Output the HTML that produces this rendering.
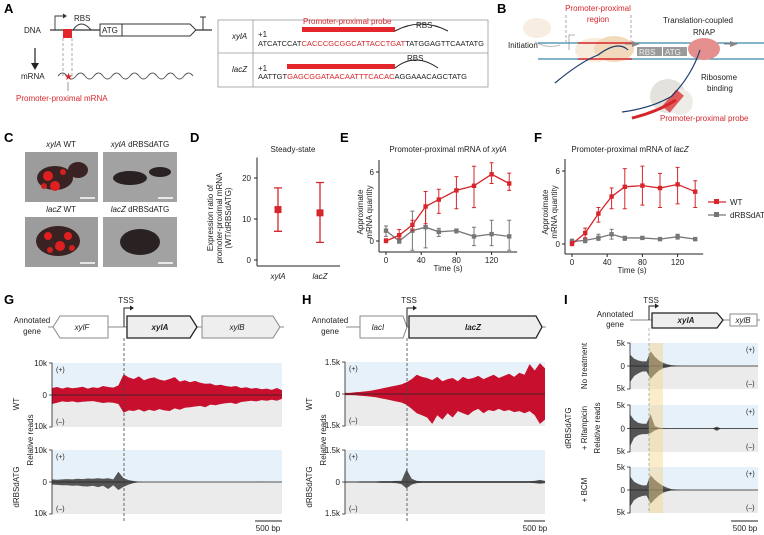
<!DOCTYPE html>
<html><head><meta charset="utf-8"><style>
html,body{margin:0;padding:0;background:#fff;}
svg{display:block;font-family:"Liberation Sans",Arial,sans-serif;}
.pl{font-weight:bold;font-size:13px;}
.t{font-size:8px;fill:#222;}
.s{font-size:7px;fill:#222;}
.r{fill:#d7262b;}
</style></head><body>
<svg id="fig" width="764" height="535" viewBox="0 0 764 535">
<!-- Panel A -->
<g>
<text class="pl" x="4" y="13">A</text>
<text class="t" x="24" y="33">DNA</text>
<line x1="50" y1="30" x2="212" y2="30" stroke="#333" stroke-width="1.2"/>
<path d="M55 30 V16 H63" fill="none" stroke="#333" stroke-width="0.9"/><path d="M63 13.5 L67 16 L63 18.5Z" fill="#333"/>
<path d="M73 30 Q81 18 91 30" fill="none" stroke="#333"/>
<text class="t" x="74" y="21">RBS</text>
<rect x="100" y="24" width="22" height="12" fill="#fff" stroke="#333"/><text class="t" x="102" y="33">ATG</text>
<path d="M122 24 H190 L196 30 L190 36 H122Z" fill="#fff" stroke="#333"/>
<line x1="203" y1="17" x2="203" y2="30" stroke="#333"/><line x1="200" y1="17" x2="206" y2="17" stroke="#333"/>
<rect x="63" y="29" width="9" height="9" fill="#e3262b"/>
<line x1="63" y1="38" x2="63" y2="76" stroke="#aaa" stroke-dasharray="3,2"/><line x1="72" y1="38" x2="72" y2="76" stroke="#aaa" stroke-dasharray="3,2"/>
<line x1="35" y1="48" x2="35" y2="64" stroke="#222" stroke-width="1.2"/><path d="M31 63 L35 70 L39 63Z" fill="#222"/>
<text class="t" x="21" y="79">mRNA</text>
<path d="M58 76 q4.5-6 9 0 t9 0 t9 0 t9 0 t9 0 t9 0 t9 0 t9 0 t9 0 t9 0 t9 0 t9 0 t9 0 t9 0 t9 0" fill="none" stroke="#555" stroke-width="0.9"/>
<text x="64" y="80" font-size="10" class="r">★</text>
<line x1="68" y1="82" x2="68" y2="91" stroke="#999"/>
<text x="16" y="101" font-size="8" class="r">Promoter-proximal mRNA</text>
<!-- table -->
<rect x="218" y="20" width="270" height="67" fill="#fff" stroke="#999" stroke-width="0.8"/>
<line x1="253" y1="20" x2="253" y2="87" stroke="#999" stroke-width="0.8"/><line x1="218" y1="53" x2="488" y2="53" stroke="#999" stroke-width="0.8"/>
<text class="t" x="232" y="39" font-style="italic">xylA</text>
<text class="t" x="258" y="37">+1</text>
<text class="s" x="258" y="46" textLength="226" lengthAdjust="spacingAndGlyphs">ATCATCCAT<tspan class="r">CACCCGCGGCATTACCTGAT</tspan>TATGGAGTTCAATATG</text>
<rect x="302" y="27" width="93" height="5" fill="#e3262b"/>
<text x="303" y="24" font-size="8" class="r">Promoter-proximal probe</text>
<path d="M395 31 Q421 17 448 31" fill="none" stroke="#222"/><text class="t" x="416" y="28">RBS</text>
<text class="t" x="232" y="72" font-style="italic">lacZ</text>
<text class="t" x="258" y="71">+1</text>
<text class="s" x="258" y="79" textLength="209" lengthAdjust="spacingAndGlyphs">AATTGT<tspan class="r">GAGCGGATAACAATTTCACAC</tspan>AGGAAACAGCTATG</text>
<rect x="287" y="64" width="108" height="5" fill="#e3262b"/>
<path d="M395 68 Q415 52 438 68" fill="none" stroke="#222"/><text class="t" x="407" y="61">RBS</text>
</g>
<!-- Panel B -->
<g>
<text class="pl" x="497" y="13">B</text>
<text x="598" y="11" font-size="8" class="r" text-anchor="middle">Promoter-proximal</text>
<text x="598" y="22" font-size="8" class="r" text-anchor="middle">region</text>
<line x1="566" y1="15" x2="566" y2="42" stroke="#aaa" stroke-dasharray="3,2"/><line x1="631" y1="15" x2="631" y2="42" stroke="#aaa" stroke-dasharray="3,2"/>
<ellipse cx="537" cy="28" rx="14" ry="10" fill="#f7ede1"/>
<text class="t" x="508" y="48">Initiation</text>
<path d="M535 42 Q548 49 560 45" fill="none" stroke="#bbb"/>
<path d="M569 50 V35 H575" fill="none" stroke="#999" stroke-width="0.8"/>
<line x1="538" y1="43" x2="764" y2="43" stroke="#3a86a8" stroke-width="1.2"/>
<line x1="538" y1="59" x2="764" y2="59" stroke="#3a86a8" stroke-width="1.2"/>
<ellipse cx="595" cy="50" rx="20" ry="12" fill="#f6e6d2" opacity="0.8"/>
<ellipse cx="614" cy="49" rx="20" ry="13" fill="#f3d9bb"/>
<line x1="578" y1="43" x2="632" y2="43" stroke="#d7262b" stroke-width="1.5"/><line x1="578" y1="59" x2="632" y2="59" stroke="#d7262b" stroke-width="1.5"/>
<path d="M555 83 Q580 62 598 55 Q618 40 628 50" fill="none" stroke="#1b3a6b" stroke-width="1.2"/>
<rect x="637" y="47" width="25" height="9" fill="#9a9a9a"/><text x="639" y="55" font-size="8" fill="#eee">RBS</text>
<rect x="663" y="47" width="24" height="9" fill="#9a9a9a"/><text x="665" y="55" font-size="8" fill="#eee">ATG</text>
<path d="M632 41 L640 44 L632 47Z" fill="#888"/><line x1="625" y1="44" x2="634" y2="44" stroke="#888"/>
<ellipse cx="704" cy="49" rx="16" ry="11" fill="#e58e8e"/>
<path d="M730 41 L738 44 L730 47Z" fill="#888"/><line x1="724" y1="44" x2="732" y2="44" stroke="#888"/>
<text class="t" x="663" y="23">Translation-coupled</text><text class="t" x="693" y="35">RNAP</text>
<ellipse cx="668" cy="96" rx="18" ry="17" fill="#e4e2dc"/>
<ellipse cx="680" cy="102" rx="13" ry="13" fill="#eeece7"/>
<rect x="668" y="90" width="10" height="22" fill="#e05a5a" transform="rotate(40 673 101)"/>
<path d="M622 112 Q652 108 672 96 Q692 75 700 50" fill="none" stroke="#1b3a6b" stroke-width="1.2"/>
<path d="M632 118 Q657 112 676 100" fill="none" stroke="#d7262b" stroke-width="3"/>
<text class="t" x="701" y="80">Ribosome</text><text class="t" x="707" y="91">binding</text>
<text x="660" y="121" font-size="8" class="r">Promoter-proximal probe</text>
</g>
<!-- Panel C -->
<g>
<text class="pl" x="4" y="142">C</text>
<text class="t" x="61" y="147" text-anchor="middle"><tspan font-style="italic">xylA</tspan> WT</text>
<text class="t" x="140" y="147" text-anchor="middle"><tspan font-style="italic">xylA</tspan> dRBSdATG</text>
<text class="t" x="61" y="212" text-anchor="middle"><tspan font-style="italic">lacZ</tspan> WT</text>
<text class="t" x="140" y="212" text-anchor="middle"><tspan font-style="italic">lacZ</tspan> dRBSdATG</text>
<rect x="25" y="152" width="73" height="50" fill="#9c9c9c"/>
<ellipse cx="55" cy="178" rx="18" ry="12" fill="#3a2222"/><ellipse cx="78" cy="170" rx="10" ry="8" fill="#3a2222"/>
<circle cx="48" cy="176" r="5" fill="#e02020"/><circle cx="55" cy="186" r="5" fill="#e02020"/><circle cx="63" cy="172" r="3" fill="#d02020"/><circle cx="44" cy="186" r="3" fill="#d02020"/>
<rect x="103" y="152" width="74" height="50" fill="#a2a2a2"/>
<ellipse cx="130" cy="178" rx="17" ry="7" fill="#2a2222"/><ellipse cx="160" cy="172" rx="11" ry="5" fill="#2a2222"/>
<rect x="25" y="217" width="73" height="50" fill="#9c9c9c"/>
<ellipse cx="58" cy="241" rx="22" ry="15" fill="#3a2222"/>
<circle cx="48" cy="236" r="4" fill="#e02020"/><circle cx="60" cy="246" r="5" fill="#e02020"/><circle cx="68" cy="236" r="4" fill="#e02020"/><circle cx="50" cy="250" r="3" fill="#d02020"/><circle cx="72" cy="248" r="3" fill="#d02020"/>
<rect x="103" y="217" width="74" height="50" fill="#a2a2a2"/>
<ellipse cx="140" cy="242" rx="20" ry="13" fill="#2a2222"/>
<g stroke="#fff" stroke-width="1.5"><line x1="80" y1="198" x2="95" y2="198"/><line x1="158" y1="198" x2="173" y2="198"/><line x1="80" y1="263" x2="95" y2="263"/><line x1="158" y1="263" x2="173" y2="263"/></g>
</g>
<!-- Panel D/E/F text -->
<text class="pl" x="190" y="142">D</text>
<text class="t" x="293" y="152" text-anchor="middle">Steady-state</text>
<text class="t" text-anchor="middle" transform="translate(213,218) rotate(-90)"><tspan x="0" y="0">Expression ratio of</tspan><tspan x="0" y="9">promoter-proximal mRNA</tspan><tspan x="0" y="18">(WT/dRBSdATG)</tspan></text>
<text class="pl" x="340" y="142">E</text>
<text class="t" x="448" y="152" text-anchor="middle">Promoter-proximal mRNA of <tspan font-style="italic">xylA</tspan></text>
<text class="t" text-anchor="middle" transform="translate(363,212) rotate(-90)"><tspan x="0" y="0">Approximate</tspan><tspan x="0" y="9">mRNA quantity</tspan></text>
<text class="t" x="448" y="271" text-anchor="middle">Time (s)</text>
<text class="pl" x="534" y="142">F</text>
<text class="t" x="630" y="152" text-anchor="middle">Promoter-proximal mRNA of <tspan font-style="italic">lacZ</tspan></text>
<text class="t" text-anchor="middle" transform="translate(548,212) rotate(-90)"><tspan x="0" y="0">Approximate</tspan><tspan x="0" y="9">mRNA quantity</tspan></text>
<text class="t" x="632" y="273" text-anchor="middle">Time (s)</text>
<g>
<line x1="708" y1="202" x2="726" y2="202" stroke="#d7262b" stroke-width="1.2"/><rect x="714" y="199" width="5" height="5" fill="#d7262b"/><text class="t" x="730" y="205">WT</text>
<line x1="708" y1="215" x2="726" y2="215" stroke="#777" stroke-width="1.2"/><rect x="714" y="212" width="5" height="5" fill="#777"/><text class="t" x="730" y="218">dRBSdATG</text>
</g>
<g id="charts"></g>
<!-- Panel G/H/I static -->
<text class="pl" x="4" y="304">G</text>
<text class="pl" x="302" y="304">H</text>
<text class="pl" x="564" y="304">I</text>
<g>
<text class="t" x="32" y="323" text-anchor="middle">Annotated</text><text class="t" x="32" y="334" text-anchor="middle">gene</text>
<line x1="48" y1="327" x2="284" y2="327" stroke="#888"/>
<path d="M60 316 H108 V338 H60 L53 327Z" fill="#fff" stroke="#888"/><text class="t" x="82" y="330" font-style="italic" text-anchor="middle">xylF</text>
<path d="M127 316 H190 L197 327 L190 338 H127Z" fill="#eee" stroke="#222" stroke-width="1.3"/><text class="t" x="160" y="330" font-style="italic" font-weight="bold" text-anchor="middle">xylA</text>
<path d="M202 316 H273 L280 327 L273 338 H202Z" fill="#eee" stroke="#888"/><text class="t" x="237" y="330" font-style="italic" text-anchor="middle">xylB</text>
<path d="M124 327 V308 H130" fill="none" stroke="#222"/><path d="M130 305.5 L134 308 L130 310.5Z" fill="#222"/>
<text class="t" x="126" y="303" text-anchor="middle">TSS</text>
</g>
<g>
<text class="t" x="330" y="323" text-anchor="middle">Annotated</text><text class="t" x="330" y="334" text-anchor="middle">gene</text>
<line x1="346" y1="327" x2="546" y2="327" stroke="#888"/>
<path d="M360 316 H403 L407 327 L403 338 H360Z" fill="#fff" stroke="#888"/><text class="t" x="378" y="330" font-style="italic" text-anchor="middle">lacI</text>
<path d="M409 316 H536 L542 327 L536 338 H409Z" fill="#eee" stroke="#222" stroke-width="1.3"/><text class="t" x="473" y="330" font-style="italic" font-weight="bold" text-anchor="middle">lacZ</text>
<path d="M407 327 V308 H413" fill="none" stroke="#222"/><path d="M413 305.5 L417 308 L413 310.5Z" fill="#222"/>
<text class="t" x="409" y="303" text-anchor="middle">TSS</text>
</g>
<g>
<text class="t" x="615" y="317" text-anchor="middle">Annotated</text><text class="t" x="615" y="327" text-anchor="middle">gene</text>
<line x1="630" y1="320" x2="760" y2="320" stroke="#888"/>
<path d="M652 313 H717 L723 320 L717 328 H652Z" fill="#eee" stroke="#222" stroke-width="1.3"/><text class="t" x="686" y="323" font-style="italic" font-weight="bold" text-anchor="middle">xylA</text>
<rect x="730" y="314" width="27" height="12" fill="#fff" stroke="#888"/><text class="t" x="743" y="323" font-style="italic" text-anchor="middle">xylB</text>
<path d="M649 320 V306 H655" fill="none" stroke="#222"/><path d="M655 303.5 L659 306 L655 308.5Z" fill="#222"/>
<text class="t" x="651" y="303" text-anchor="middle">TSS</text>
</g>
<text class="t" transform="translate(19,404) rotate(-90)" text-anchor="middle">WT</text>
<text class="t" transform="translate(19,487) rotate(-90)" text-anchor="middle">dRBSdATG</text>
<text class="t" transform="translate(33,440) rotate(-90)" text-anchor="middle" fill="#fff" stroke="#fff" stroke-width="4">Relative reads</text>
<text class="t" transform="translate(33,440) rotate(-90)" text-anchor="middle">Relative reads</text>
<text class="t" transform="translate(312,404) rotate(-90)" text-anchor="middle">WT</text>
<text class="t" transform="translate(312,487) rotate(-90)" text-anchor="middle">dRBSdATG</text>
<text class="t" transform="translate(326,440) rotate(-90)" text-anchor="middle">Relative reads</text>
<text class="t" transform="translate(571,428) rotate(-90)" text-anchor="middle">dRBSdATG</text>
<text class="t" transform="translate(587,366) rotate(-90)" text-anchor="middle">No treatment</text>
<text class="t" transform="translate(587,428) rotate(-90)" text-anchor="middle">+ Rifampicin</text>
<text class="t" transform="translate(587,490) rotate(-90)" text-anchor="middle">+ BCM</text>
<text class="t" transform="translate(600,428) rotate(-90)" text-anchor="middle">Relative reads</text>
<g>
<line x1="255" y1="521" x2="282" y2="521" stroke="#222"/><text class="t" x="268" y="531" text-anchor="middle">500 bp</text>
<line x1="524" y1="521" x2="545" y2="521" stroke="#222"/><text class="t" x="535" y="531" text-anchor="middle">500 bp</text>
<line x1="731" y1="521" x2="758" y2="521" stroke="#222"/><text class="t" x="745" y="531" text-anchor="middle">500 bp</text>
</g>
<g id="tracks"></g>
</svg>
<script>
// ===== D data =====
const dCats=["xylA","lacZ"];
const dMean=[12.3,11.5];
const dLo=[7.0,4.3];
const dHi=[17.6,18.9];
const dTicks=[0,10,20];
// ===== E data =====
const eTimes=[0,15,30,45,60,80,100,120,140];
const eWT=[0,0.5,1.4,3.0,3.6,4.4,4.8,5.8,5.0];
const eWTlo=[0,0.2,0.9,1.5,2.4,2.8,2.9,5.0,4.4];
const eWThi=[0.2,1.0,1.8,4.3,4.5,5.6,6.5,6.8,5.9];
const eKO=[0.9,0.0,0.9,1.2,0.8,0.9,0.4,0.6,0.4];
const eKOlo=[0.4,-0.2,-0.8,-0.6,0.4,0.7,-0.4,-0.4,-0.8];
const eKOhi=[1.3,0.2,2.6,3.0,1.1,1.0,1.2,1.8,1.8];
// ===== F data =====
const fTimes=[0,15,30,45,60,80,100,120,140];
const fWT=[0,0.9,2.5,3.9,4.7,4.8,4.6,4.9,4.3];
const fWTlo=[0,0.5,1.8,2.9,2.9,3.2,3.0,3.3,3.0];
const fWThi=[0.2,1.3,3.0,4.6,6.2,6.4,5.8,6.3,5.2];
const fKO=[0.2,0.3,0.5,0.8,0.5,0.5,0.4,0.6,0.4];
const fKOlo=[0,0.1,0.3,0.4,0.3,0.4,0.3,0.4,0.3];
const fKOhi=[0.4,0.5,0.8,1.2,0.6,0.6,0.5,0.8,0.5];
const timeTicks=[0,40,80,120];
const qTicks=[0,6];
// ===== coverage tracks (relative reads, k) =====
const gWTpos=[2.2,2.5,2.0,2.4,2.1,2.3,2.6,2.0,2.4,2.2,2.8,2.5,2.3,3.0,6.5,5.5,5.0,5.8,4.6,5.2,5.5,4.8,4.5,5.0,5.6,4.2,4.6,4.0,4.4,3.8,3.5,3.6,3.0,3.2,2.8,2.6,2.8,2.2,2.4,2.0,2.2,1.8,2.0,1.6,2.2,1.5];
const gWTneg=[2.8,2.4,2.0,2.2,2.0,2.3,2.1,2.0,1.9,2.2,2.5,2.3,2.4,2.8,5.5,4.8,5.0,4.5,5.2,4.6,5.0,4.4,4.8,5.0,4.2,4.6,4.0,3.8,3.6,3.4,3.8,3.0,3.2,2.8,2.6,2.4,2.8,2.2,2.0,1.8,2.0,1.6,1.8,1.5,1.8,1.2];
const gKOpos=[0.8,0.7,0.8,0.9,0.8,1.0,0.9,1.1,1.0,1.2,1.0,1.2,0.8,3.2,1.2,0.6,0.3,0.1,0,0,0,0,0,0,0,0,0,0,0,0,0,0,0,0,0,0,0,0,0,0,0,0.1,0,0,0,0];
const gKOneg=[0.8,0.9,1.0,1.0,1.2,1.1,1.3,1.4,1.2,1.6,1.2,2.2,1.0,2.5,1.5,0.8,0.3,0.1,0,0,0,0,0,0,0,0,0,0,0,0,0,0,0,0,0,0,0,0,0,0,0,0,0,0,0,0];
const hWTpos=[0.05,0.05,0.08,0.1,0.12,0.15,0.2,0.25,0.3,0.35,0.4,0.45,0.55,0.7,0.9,0.8,0.75,0.65,0.8,0.6,0.7,0.75,0.6,0.8,0.7,0.75,0.85,0.7,0.8,0.9,0.75,0.85,0.95,0.8,1.0,0.9,1.4,1.1,1.45,1.2];
const hWTneg=[0.05,0.05,0.06,0.08,0.1,0.12,0.15,0.2,0.25,0.3,0.35,0.4,0.5,0.7,0.9,1.0,1.1,1.4,1.0,1.2,0.9,1.1,0.8,0.9,1.0,0.8,0.7,0.9,0.75,0.8,0.7,0.8,0.75,0.85,0.8,0.9,0.8,1.0,1.4,1.2];
const hKOpos=[0.02,0.02,0.02,0.03,0.03,0.03,0.03,0.04,0.04,0.04,0.05,0.05,0.6,0.15,0.05,0.04,0.04,0.04,0.04,0.04,0.04,0.04,0.04,0.04,0.04,0.04,0.04,0.04,0.04,0.04,0.04,0.04,0.04,0.04,0.04,0.04,0.04,0.05,0.1,0.05];
const hKOneg=[0.02,0.02,0.02,0.03,0.03,0.03,0.03,0.04,0.04,0.04,0.05,0.1,0.3,0.12,0.05,0.04,0.04,0.04,0.04,0.04,0.04,0.04,0.04,0.04,0.04,0.04,0.04,0.04,0.04,0.04,0.04,0.04,0.04,0.04,0.04,0.04,0.04,0.05,0.08,0.05];
const iNTpos=[2.5,1.6,1.2,1.0,1.0,3.2,2.0,1.2,0.7,0.4,0.2,0.1,0.05,0,0,0,0,0,0,0,0,0,0,0,0,0,0,0,0,0,0,0];
const iNTneg=[3.5,2.2,1.6,1.2,1.2,2.8,1.8,1.0,0.5,0.3,0.1,0.05,0,0,0,0,0,0,0,0,0,0,0,0,0,0,0,0,0,0,0,0];
const iRIFpos=[3.0,1.8,1.2,1.0,1.0,3.0,0.5,0.2,0.1,0,0,0,0,0,0,0,0,0,0,0,0,0.4,0,0,0,0,0,0,0,0,0,0];
const iRIFneg=[3.8,2.0,1.4,1.2,1.2,1.0,0.4,0.1,0,0,0,0,0,0,0,0,0,0,0,0,0,0.5,0,0,0,0,0,0,0,0,0,0];
const iBCMpos=[3.0,1.8,1.3,1.0,1.0,3.2,2.2,1.5,0.9,0.5,0.2,0.1,0.05,0,0,0,0,0,0,0,0,0,0,0,0,0,0,0,0,0,0,0];
const iBCMneg=[3.6,2.2,1.6,1.3,1.2,3.0,2.0,1.2,0.6,0.3,0.1,0.05,0,0,0,0,0,0,0,0,0,0,0,0,0,0,0,0,0,0,0,0];

const NS="http://www.w3.org/2000/svg";
function mk(tag,attrs,parent){const e=document.createElementNS(NS,tag);for(const k in attrs)e.setAttribute(k,attrs[k]);parent.appendChild(e);return e;}
const charts=document.getElementById('charts');
const tracks=document.getElementById('tracks');

// ----- D -----
(function(){
  const y=v=>260-v*4.1, x=i=>278+i*42;
  const g=mk('g',{},charts);
  
  
  mk('line',{x1:257,y1:y(25),x2:257,y2:266,stroke:'#222'},g);
  mk('line',{x1:257,y1:266,x2:340,y2:266,stroke:'#222'},g);
  dTicks.forEach(t=>{mk('line',{x1:254,y1:y(t),x2:257,y2:y(t),stroke:'#222'},g);const tx=mk('text',{x:251,y:y(t)+3,'text-anchor':'end',class:'t'},g);tx.textContent=t;});
  dCats.forEach((c,i)=>{
    const tx=mk('text',{x:x(i),y:279,'text-anchor':'middle',class:'t','font-style':'italic'},g);tx.textContent=c;
    const eb=mk('path',{d:`M${x(i)} ${y(dLo[i])}V${y(dHi[i])}M${x(i)-4} ${y(dLo[i])}h8M${x(i)-4} ${y(dHi[i])}h8`,stroke:'#d7262b','stroke-width':1.3,fill:'none'},g);
    
    
    const p=mk('rect',{x:x(i)-3.5,y:y(dMean[i])-3.5,width:7,height:7,fill:'#d7262b'},g);
    
    
  });
})();

// ----- E / F line charts -----
function lineChart(name,x0,y0,yTop6,axisY,times,series){
  const x=t=>x0+t*0.88, y=v=>y0-(y0-yTop6)*v/6;
  const g=mk('g',{},charts);
  
  
  mk('line',{x1:x0-7,y1:yTop6-12,x2:x0-7,y2:axisY,stroke:'#222'},g);
  mk('line',{x1:x0-7,y1:axisY,x2:x(140)+8,y2:axisY,stroke:'#222'},g);
  qTicks.forEach(t=>{mk('line',{x1:x0-10,y1:y(t),x2:x0-7,y2:y(t),stroke:'#222'},g);const tx=mk('text',{x:x0-12,y:y(t)+3,'text-anchor':'end',class:'t'},g);tx.textContent=t;});
  timeTicks.forEach(t=>{mk('line',{x1:x(t),y1:axisY,x2:x(t),y2:axisY+3,stroke:'#222'},g);const tx=mk('text',{x:x(t),y:axisY+11,'text-anchor':'middle',class:'t'},g);tx.textContent=t;});
  series.forEach(s=>{
    let d='';
    times.forEach((t,i)=>{d+=`M${x(t)} ${y(s.lo[i])}V${y(s.hi[i])}M${x(t)-2} ${y(s.lo[i])}h4M${x(t)-2} ${y(s.hi[i])}h4`;});
    const eb=mk('path',{d:d,stroke:s.c,'stroke-width':1,fill:'none'},g);
    
    
    const ln=mk('polyline',{points:times.map((t,i)=>x(t)+','+y(s.m[i])).join(' '),stroke:s.c,'stroke-width':1.3,fill:'none'},g);
    
    
    times.forEach((t,i)=>{
      const p=mk('rect',{x:x(t)-2.2,y:y(s.m[i])-2.2,width:4.4,height:4.4,fill:s.c},g);
      
      
    });
  });
}
lineChart('e-chart',386,241,172,252,eTimes,[{n:'drbsdatg',c:'#777',m:eKO,lo:eKOlo,hi:eKOhi},{n:'wt',c:'#d7262b',m:eWT,lo:eWTlo,hi:eWThi}]);
lineChart('f-chart',572,244,171,254,fTimes,[{n:'drbsdatg',c:'#777',m:fKO,lo:fKOlo,hi:fKOhi},{n:'wt',c:'#d7262b',m:fWT,lo:fWTlo,hi:fWThi}]);

// ----- coverage tracks -----
function track(name,x0,x1,top,bot,maxv,pos,neg,color,tickLbl,pmLeft){
  const mid=(top+bot)/2, h=(bot-top)/2;
  const g=mk('g',{},tracks);
  
  
  mk('rect',{x:x0,y:top,width:x1-x0,height:h,fill:'#e6f1f9'},g);
  mk('rect',{x:x0,y:mid,width:x1-x0,height:h,fill:'#ebebeb'},g);
  const n=pos.length, step=(x1-x0)/(n-1);
  let d=`M${x0} ${mid}`;
  pos.forEach((v,i)=>{d+=`L${(x0+i*step).toFixed(1)} ${(mid-h*v/maxv).toFixed(1)}`;});
  for(let i=n-1;i>=0;i--){d+=`L${(x0+i*step).toFixed(1)} ${(mid+h*neg[i]/maxv).toFixed(1)}`;}
  d+='Z';
  const a=mk('path',{d:d,fill:color},g);
  
  
  mk('line',{x1:x0,y1:mid,x2:x1,y2:mid,stroke:'#222','stroke-width':0.8},g);
  mk('path',{d:`M${x0-3} ${top}H${x0}V${bot}H${x0-3}M${x0-3} ${mid}H${x0}`,stroke:'#222',fill:'none','stroke-width':0.8},g);
  [[top+3,tickLbl],[mid+3,'0'],[bot+2,tickLbl]].forEach(([yy,l])=>{const t=mk('text',{x:x0-5,y:yy,'text-anchor':'end',class:'t'},g);t.textContent=l;});
  const px=pmLeft?x0+4:x1-12;
  const t1=mk('text',{x:px,y:top+9,class:'s'},g);t1.textContent='(+)';
  const t2=mk('text',{x:px,y:bot-3,class:'s'},g);t2.textContent='(\u2013)';
}
track('g-wt-track',52,282,363,427,10,gWTpos,gWTneg,'#c8102e','10k',true);
track('g-drbs-track',52,282,450,514,10,gKOpos,gKOneg,'#555','10k',true);
track('h-wt-track',345,545,362,426,1.5,hWTpos,hWTneg,'#c8102e','1.5k',true);
track('h-drbs-track',345,545,450,514,1.5,hKOpos,hKOneg,'#555','1.5k',true);
track('i-nt-track',630,758,343,389,5,iNTpos,iNTneg,'#555','5k',false);
track('i-rif-track',630,758,405,452,5,iRIFpos,iRIFneg,'#555','5k',false);
track('i-bcm-track',630,758,467,513,5,iBCMpos,iBCMneg,'#555','5k',false);
// yellow band + dashed TSS lines
const yb=mk('rect',{x:649,y:343,width:14,height:170,fill:'#f6d58a',opacity:0.45},tracks);


mk('line',{x1:124,y1:338,x2:124,y2:522,stroke:'#444','stroke-dasharray':'3,2','stroke-width':0.8},tracks);
mk('line',{x1:407,y1:338,x2:407,y2:522,stroke:'#444','stroke-dasharray':'3,2','stroke-width':0.8},tracks);
mk('line',{x1:649,y1:328,x2:649,y2:513,stroke:'#888','stroke-dasharray':'3,2','stroke-width':0.6},tracks);
</script>
</body></html>
